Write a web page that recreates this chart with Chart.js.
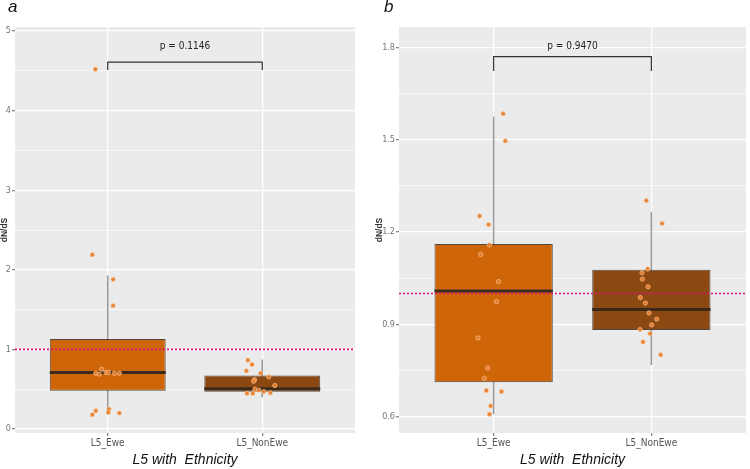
<!DOCTYPE html>
<html>
<head>
<meta charset="utf-8">
<script src="https://cdn.jsdelivr.net/npm/chart.js@4.4.0/dist/chart.umd.min.js"></script>
<style>
  body { margin: 0; background: #fff; }
  #wrap { position: relative; width: 750px; height: 469px; }
  canvas { position: absolute; top: 0; }
  .tag { position: absolute; top: -3px; font: italic 17px "Liberation Sans", Arial, sans-serif; color: #111; }
</style>
</head>
<body>
<div id="wrap">
  <canvas id="chartA" width="375" height="469" style="left:0"></canvas>
  <canvas id="chartB" width="375" height="469" style="left:375px"></canvas>
  <div class="tag" style="left:8px">a</div>
  <div class="tag" style="left:384px">b</div>
</div>
<script>
const categories = ['L5_Ewe', 'L5_NonEwe'];
const boxColors = ['#CE6609', '#8B4811'];
const refValue = 1;

// panel a - box stats per category
const lowA = [0.18, 0.40];
const q1A = [0.48, 0.467];
const medA = [0.71, 0.505];
const q3A = [1.13, 0.673];
const highA = [1.93, 0.873];
const eweA = [4.52, 2.19, 1.88, 1.55, 0.70, 0.69, 0.75, 0.71, 0.71, 0.70, 0.70, 0.18, 0.23, 0.25, 0.21, 0.20];
const eweJitterA = [-0.08, -0.10, 0.035, 0.035, -0.077, -0.056, -0.039, -0.011, 0.004, 0.043, 0.075, -0.099, -0.077, 0.008, 0.004, 0.075];
const nonEweA = [0.865, 0.81, 0.73, 0.70, 0.655, 0.62, 0.60, 0.547, 0.50, 0.489, 0.447, 0.447, 0.47, 0.455];
const nonEweJitterA = [-0.093, -0.066, -0.103, -0.011, 0.042, -0.05, -0.056, 0.081, -0.048, -0.023, -0.099, -0.061, 0.01, 0.052];
const yTicksA = [0, 1, 2, 3, 4, 5];
const yLabelsA = ['0', '1', '2', '3', '4', '5'];

// panel b
const lowB = [0.608, 0.768];
const q1B = [0.712, 0.882];
const medB = [1.008, 0.948];
const q3B = [1.161, 1.077];
const highB = [1.575, 1.266];
const eweB = [1.584, 1.496, 1.252, 1.224, 1.158, 1.127, 1.039, 0.974, 0.856, 0.758, 0.725, 0.685, 0.682, 0.635, 0.608];
const eweJitterB = [0.06, 0.074, -0.089, -0.032, -0.027, -0.082, 0.031, 0.018, -0.099, -0.038, -0.059, -0.046, 0.05, -0.019, -0.026];
const nonEweB = [1.302, 1.228, 1.080, 1.068, 1.047, 1.022, 0.987, 0.969, 0.937, 0.917, 0.898, 0.883, 0.870, 0.843, 0.801];
const nonEweJitterB = [-0.032, 0.068, -0.023, -0.059, -0.057, -0.021, -0.07, -0.038, -0.015, 0.034, 0.002, -0.072, -0.008, -0.053, 0.059];
const yTicksB = [0.6, 0.9, 1.2, 1.5, 1.8];
const yLabelsB = ['0.6', '0.9', '1.2', '1.5', '1.8'];

const BOX_WIDTH = 0.75;
const X_MIN = 0.4, X_MAX = 2.6;
const narrow = '"Liberation Sans Narrow", "DejaVu Sans Condensed", Arial, sans-serif';

// minor ticks half way between the major ones, like ggplot
const tickList = (major, labels) => {
    const out = [];
    major.forEach((v, i) => {
        out.push({ value: v, major: true, text: labels[i] });
        if (i < major.length - 1) out.push({ value: (v + major[i + 1]) / 2, major: false, text: '' });
    });
    return out;
};

const panelBg = {
    id: 'panelBg',
    beforeDraw(chart) {
        const { ctx, chartArea: a } = chart;
        ctx.save();
        ctx.fillStyle = '#EBEBEB';
        ctx.fillRect(a.left, a.top, a.right - a.left, a.bottom - a.top);
        ctx.restore();
    }
};

const buildChart = (id, p) => {
    const boxData = categories.map((c, i) => ({ x: i + 1, y: [p.q1[i], p.q3[i]] }));
    const whiskerData = [];
    const medianData = [];
    categories.forEach((c, i) => {
        whiskerData.push({ x: i + 1, y: p.low[i] }, { x: i + 1, y: p.high[i] }, { x: i + 1, y: null });
        medianData.push({ x: i + 1 - BOX_WIDTH / 2, y: p.med[i] }, { x: i + 1 + BOX_WIDTH / 2, y: p.med[i] }, { x: i + 1, y: null });
    });
    const pointData = [];
    p.values.forEach((vals, i) => vals.forEach((v, j) => pointData.push({ x: i + 1 + p.jitter[i][j], y: v })));
    const bracketData = [
        { x: 1, y: p.bracket[0] }, { x: 1, y: p.bracket[1] },
        { x: 2, y: p.bracket[1] }, { x: 2, y: p.bracket[0] }
    ];

    const pLabel = {
        id: 'pLabel',
        afterDatasetsDraw(chart) {
            const { ctx, scales } = chart;
            ctx.save();
            ctx.font = '10px ' + narrow;
            ctx.fillStyle = '#222';
            ctx.textAlign = 'center';
            ctx.textBaseline = 'middle';
            ctx.fillText(p.pText, scales.x.getPixelForValue(1.5), scales.y.getPixelForValue(p.pTextY));
            ctx.restore();
        }
    };

    return new Chart(document.getElementById(id), {
        type: 'scatter',
        data: {
            datasets: [
                {
                    data: pointData, order: 0,
                    pointRadius: 2.2, pointHoverRadius: 2.2,
                    backgroundColor: 'rgba(232,128,48,0.95)',
                    borderColor: 'rgba(250,200,150,0.6)', borderWidth: 1
                },
                {
                    type: 'line', data: bracketData, order: 1,
                    borderColor: '#333', borderWidth: 1.2, pointRadius: 0, fill: false
                },
                {
                    type: 'line', data: [{ x: X_MIN, y: refValue }, { x: X_MAX, y: refValue }], order: 2,
                    borderColor: '#E2107E', borderWidth: 1.6, borderDash: [2, 2], pointRadius: 0, fill: false
                },
                {
                    type: 'line', data: medianData, order: 3, spanGaps: false,
                    borderColor: '#3b2a1c', borderWidth: 3, pointRadius: 0, fill: false
                },
                {
                    type: 'bar', data: boxData, order: 4, grouped: false,
                    backgroundColor: boxColors, borderColor: 'rgba(55,45,40,0.85)', borderWidth: 1,
                    borderSkipped: false, categoryPercentage: 1, barPercentage: BOX_WIDTH
                },
                {
                    type: 'line', data: whiskerData, order: 5, spanGaps: false,
                    borderColor: '#999', borderWidth: 1.5, pointRadius: 0, fill: false
                }
            ]
        },
        options: {
            responsive: false,
            animation: false,
            layout: { padding: { left: 0, right: p.padRight, top: 27, bottom: 0 } },
            plugins: { legend: { display: false }, tooltip: { enabled: false } },
            scales: {
                x: {
                    type: 'linear', min: X_MIN, max: X_MAX, offset: false,
                    afterBuildTicks: s => { s.ticks = categories.map((c, i) => ({ value: i + 1, major: true, text: c })); },
                    afterFit: s => { s.height = 36; },
                    border: { display: false },
                    grid: { color: '#fff', lineWidth: 1.3, tickLength: 3, tickColor: '#888', offset: false },
                    ticks: {
                        autoSkip: false, maxRotation: 0, padding: 1, color: '#555',
                        font: { size: 10, family: narrow },
                        callback: (v, i, ticks) => ticks[i].text
                    },
                    title: {
                        display: true, text: 'L5 with  Ethnicity', color: '#111', padding: 0,
                        font: { size: 14, style: 'italic', family: '"Liberation Sans", Arial, sans-serif' }
                    }
                },
                y: {
                    type: 'linear', min: p.yMin, max: p.yMax,
                    afterBuildTicks: s => { s.ticks = tickList(p.yTicks, p.yLabels); },
                    afterFit: s => { s.width = p.axisWidth; },
                    border: { display: false },
                    grid: {
                        color: '#fff',
                        lineWidth: c => (c.tick && c.tick.major ? 1.3 : 0.6),
                        tickLength: 3,
                        tickColor: c => (c.tick && c.tick.major ? '#888' : 'rgba(0,0,0,0)')
                    },
                    ticks: {
                        autoSkip: false, padding: 1, color: '#777',
                        font: { size: 9, family: narrow },
                        callback: (v, i, ticks) => ticks[i].text
                    },
                    title: {
                        display: true, text: 'dN/dS', color: '#333', padding: 0,
                        font: { size: 8.5, weight: 'bold', lineHeight: 1, family: '"Liberation Sans", Arial, sans-serif' }
                    }
                }
            }
        },
        plugins: [panelBg, pLabel]
    });
};

buildChart('chartA', {
    low: lowA, q1: q1A, med: medA, q3: q3A, high: highA,
    values: [eweA, nonEweA], jitter: [eweJitterA, nonEweJitterA],
    yTicks: yTicksA, yLabels: yLabelsA, yMin: -0.05, yMax: 5.05,
    bracket: [4.51, 4.61], pText: 'p = 0.1146', pTextY: 4.8,
    axisWidth: 15, padRight: 20
});

buildChart('chartB', {
    low: lowB, q1: q1B, med: medB, q3: q3B, high: highB,
    values: [eweB, nonEweB], jitter: [eweJitterB, nonEweJitterB],
    yTicks: yTicksB, yLabels: yLabelsB, yMin: 0.547, yMax: 1.866,
    bracket: [1.723, 1.770], pText: 'p = 0.9470', pTextY: 1.802,
    axisWidth: 24, padRight: 4
});
</script>
</body>
</html>
